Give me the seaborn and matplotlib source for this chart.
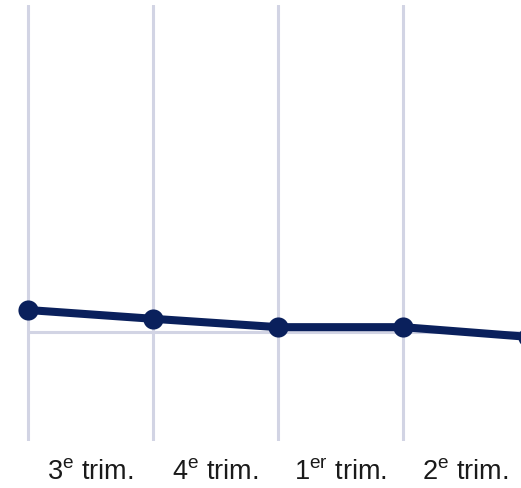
import seaborn as sns
import matplotlib.pyplot as plt
import pandas as pd
import numpy as np

# data
quarters = ["3$^{\\mathregular{e}}$ trim.", "4$^{\\mathregular{e}}$ trim.",
            "1$^{\\mathregular{er}}$ trim.", "2$^{\\mathregular{e}}$ trim.", "3e"]
values = [0.50, 0.30, 0.11, 0.11, -0.11]
baseline = 0.0

df = pd.DataFrame({"pos": np.arange(len(values)), "value": values})

sns.set_style("white")
plt.rcParams["font.family"] = ["Liberation Sans", "DejaVu Sans"]

fig = plt.figure(figsize=(5.21, 4.89), dpi=100)
ax = fig.add_axes([0, 47 / 489, 1, 436 / 489])

line_color = "#0a205c"
grid_color = "#d2d4e4"

# reference line from first point onwards
ax.hlines(baseline, df["pos"].iloc[0], df["pos"].iloc[-1], color=grid_color,
          linewidth=2.2, zorder=1)

sns.lineplot(data=df, x="pos", y="value", ax=ax, color=line_color,
             linewidth=5.8, marker="o", markersize=14.5, markeredgewidth=0,
             zorder=3)

# x range: first point at 28 px, spacing 125 px
ax.set_xlim(-28 / 125, (521 - 28) / 125)
ax.set_ylim(-109 / 44, 327 / 44)

ax.set_xticks(np.arange(4))
ax.set_xticklabels([])
ax.xaxis.grid(True, color=grid_color, linewidth=2.2)
ax.yaxis.grid(False)
ax.set_axisbelow(True)

ax.set_xticks(np.arange(4) + 0.5, minor=True)
ax.set_xticklabels(quarters[:4], minor=True, fontsize=19.5, color="#1a1a1a")
ax.tick_params(axis="x", which="both", length=0, pad=12)
ax.set_yticks([])
ax.set_xlabel("")
ax.set_ylabel("")
for s in ax.spines.values():
    s.set_visible(False)

plt.savefig("out.png", dpi=100)
plt.close()
